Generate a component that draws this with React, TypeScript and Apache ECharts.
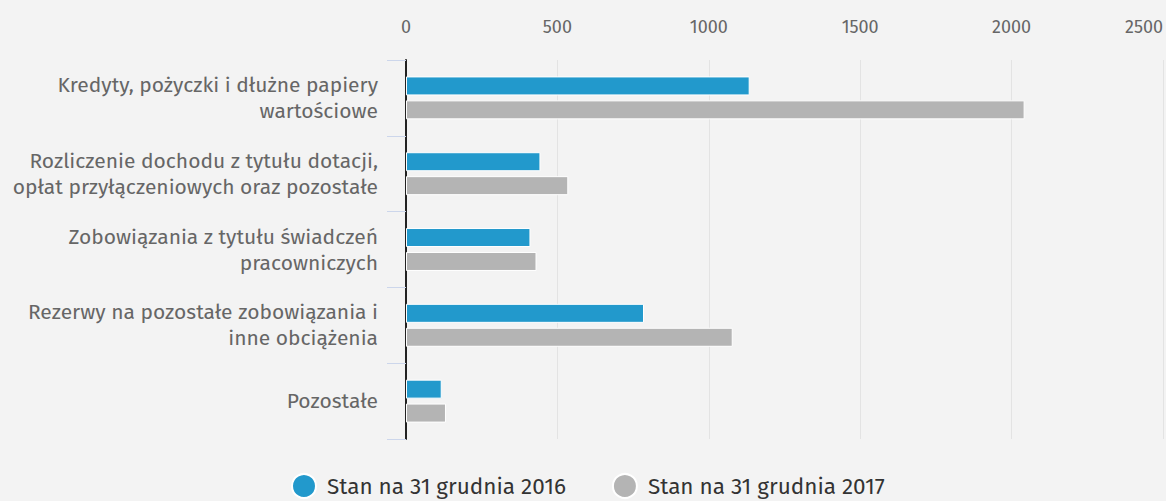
import React, { useEffect, useRef } from "react";
import * as echarts from "echarts";

const categories = [
  "Kredyty, pożyczki i dłużne papiery\nwartościowe",
  "Rozliczenie dochodu z tytułu dotacji,\nopłat przyłączeniowych oraz pozostałe",
  "Zobowiązania z tytułu świadczeń\npracowniczych",
  "Rezerwy na pozostałe zobowiązania i\ninne obciążenia",
  "Pozostałe",
];
const series2016Name = "Stan na 31 grudnia 2016";
const series2017Name = "Stan na 31 grudnia 2017";
const values2016 = [1135, 444, 411, 786, 118];
const values2017 = [2043, 536, 431, 1079, 132];
const xTicks = [0, 500, 1000, 1500, 2000, 2500];

const FONT = "'Fira Sans', 'Noto Sans', sans-serif";

export default function App() {
  const ref = useRef<HTMLDivElement>(null);
  useEffect(() => {
    document.body.style.margin = "0";
    document.body.style.background = "#f3f3f3";
    const chart = echarts.init(ref.current!, null, { renderer: "svg" });
    chart.setOption({
      animation: false,
      backgroundColor: "#f3f3f3",
      grid: { left: 406, right: 1, top: 60, bottom: 62, containLabel: false },
      legend: {
        top: 473,
        left: 291,
        padding: 0,
        icon: "circle",
        itemWidth: 24,
        itemHeight: 24,
        itemGap: 46,
        textStyle: { fontFamily: FONT, fontSize: 22.5, color: "#333", padding: [0, 0, 0, 6] },
        data: [series2016Name, series2017Name],
      },
      xAxis: {
        type: "value",
        position: "top",
        min: xTicks[0],
        max: xTicks[xTicks.length - 1],
        interval: 500,
        axisLine: { show: false },
        axisTick: { show: false },
        splitLine: { show: true, lineStyle: { color: "#e3e3e3", width: 1 } },
        axisLabel: {
          fontFamily: FONT,
          fontSize: 18,
          color: "#666",
          margin: 24,
          alignMaxLabel: "right",
          formatter: (v: number) => String(v),
        },
      },
      yAxis: {
        type: "category",
        inverse: true,
        data: categories,
        axisLine: { show: true, lineStyle: { color: "#222", width: 2 } },
        axisTick: { show: true, length: 19, lineStyle: { color: "#ccd6eb", width: 1 } },
        axisLabel: {
          fontFamily: FONT,
          fontSize: 21,
          color: "#666",
          lineHeight: 26,
          margin: 28,
          align: "right",
        },
      },
      series: [
        {
          name: series2016Name,
          type: "bar",
          data: values2016,
          barWidth: 19,
          barGap: "26%",
          itemStyle: { color: "#2299cc", borderColor: "#fff", borderWidth: 1 },
        },
        {
          name: series2017Name,
          type: "bar",
          data: values2017,
          barWidth: 19,
          itemStyle: { color: "#b4b4b4", borderColor: "#fff", borderWidth: 1 },
        },
      ],
    });
    return () => chart.dispose();
  }, []);
  return <div ref={ref} style={{ width: 1166, height: 501 }} />;
}
